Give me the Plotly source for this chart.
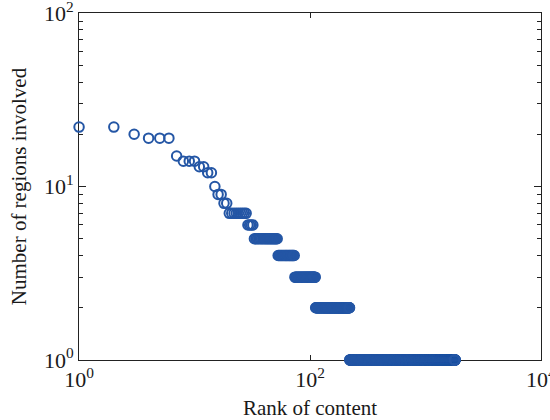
import numpy as np
import plotly.graph_objects as go

# Number of regions for the top-ranked contents (rank 1..19)
top_values = [22, 22, 20, 19, 19, 19, 15, 14, 14, 14, 13, 13, 12, 12, 10, 9, 9, 8, 8]
# Plateaus after that: value and last rank with that value
plateau_values = [7, 6, 5, 4, 3, 2, 1]
plateau_last_rank = [28, 32, 52, 73, 111, 220, 1800]

x_tickvals = [1, 100, 10000]
x_ticktext = ["10<sup>0</sup>", "10<sup>2</sup>", "10<sup>4</sup>"]
y_tickvals = [1, 10, 100]
y_ticktext = ["10<sup>0</sup>", "10<sup>1</sup>", "10<sup>2</sup>"]
y_minor_tickvals = [2, 3, 4, 5, 6, 7, 8, 9, 20, 30, 40, 50, 60, 70, 80, 90]

# expand the run-lengths
starts = [len(top_values)] + plateau_last_rank[:-1]
counts = np.array(plateau_last_rank) - np.array(starts)
values = np.concatenate([np.array(top_values), np.repeat(plateau_values, counts)])
ranks = np.arange(1, len(values) + 1)

color = "#2456a5"
fig = go.Figure()
fig.add_trace(go.Scatter(
    x=ranks, y=values, mode="markers", cliponaxis=False,
    marker=dict(symbol="circle-open", size=9.5, color=color, line=dict(width=2, color=color)),
    showlegend=False,
))

font = dict(family="Liberation Serif, Times New Roman, serif", size=21, color="#1a1a1a")
tickfont = dict(family="Liberation Serif, Times New Roman, serif", size=22, color="#1a1a1a")
axis_common = dict(
    type="log", showline=True, linecolor="#222222", linewidth=1, mirror="ticks",
    ticks="inside", tickcolor="#222222", tickwidth=1, showgrid=False, zeroline=False,
    layer="below traces", tickfont=tickfont, automargin=False, ticklabeloverflow="allow",
)
fig.update_xaxes(
    **axis_common, range=[-0.0005, 4.0005], tickvals=x_tickvals, ticktext=x_ticktext, ticklen=5,
    title=dict(text="Rank of content", font=font, standoff=8),
)
fig.update_yaxes(
    **axis_common, range=[-0.0005, 2.0005], tickvals=y_tickvals, ticktext=y_ticktext, ticklen=7,
    minor=dict(ticks="inside", ticklen=4, tickcolor="#222222", showgrid=False,
               tickvals=y_minor_tickvals),
    title=dict(text="Number of regions involved", font=font, standoff=11),
)
fig.update_layout(
    width=550, height=420,
    margin=dict(l=78.5, r=8.5, t=13, b=60),
    plot_bgcolor="white", paper_bgcolor="white",
    font=font,
)
fig.write_html("out.html", config={"displayModeBar": False},
               post_script="document.body.style.margin='0';")
